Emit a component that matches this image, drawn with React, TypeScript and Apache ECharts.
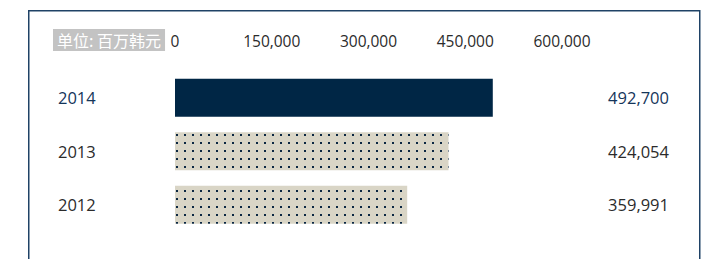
import React, { useEffect, useRef } from "react";
import * as echarts from "echarts";

const categories = ["2014", "2013", "2012"];
const values = [492700, 424054, 359991];
const tickValues = [0, 150000, 300000, 450000, 600000];
const unitLabel = "单位: 百万韩元";

const FONT = "'Open Sans', 'Noto Sans', 'Noto Sans CJK SC', sans-serif";
const NAVY = "#002645";
const HL = "#14355a";
const TXT = "#2b2b2b";

function makePattern() {
  const c = document.createElement("canvas");
  c.width = 8;
  c.height = 8;
  const ctx = c.getContext("2d")!;
  ctx.fillStyle = "#d9d5c6";
  ctx.fillRect(0, 0, 8, 8);
  ctx.fillStyle = "#0b2742";
  ctx.fillRect(0, 6, 2, 2);
  return { image: c, repeat: "repeat", imageWidth: 8, imageHeight: 8 } as any;
}

const fmt = (v: number) => v.toLocaleString("en-US");

export default function App() {
  const ref = useRef<HTMLDivElement>(null);
  useEffect(() => {
    if (!ref.current) return;
    const chart = echarts.init(ref.current, undefined, { renderer: "svg" });
    const pattern = makePattern();
    chart.setOption({
      animation: false,
      textStyle: { fontFamily: FONT },
      grid: { left: 175, right: 151, top: 71, bottom: 27.5 },
      xAxis: {
        type: "value",
        position: "top",
        min: tickValues[0],
        max: tickValues[tickValues.length - 1],
        interval: tickValues[1] - tickValues[0],
        axisLine: { show: false },
        axisTick: { show: false },
        splitLine: { show: false },
        axisLabel: {
          margin: 30,
          verticalAlign: "middle",
          color: TXT,
          fontSize: 15.5,
          fontFamily: FONT,
          formatter: (v: number) => fmt(v),
        },
      },
      yAxis: [
        {
          type: "category",
          inverse: true,
          data: categories,
          axisLine: { show: false },
          axisTick: { show: false },
          axisLabel: {
            align: "left",
            margin: 117,
            fontFamily: FONT,
            formatter: (v: string, i: number) => (i === 0 ? `{h|${v}}` : `{n|${v}}`),
            rich: {
              h: { color: HL, fontSize: 16.5, fontFamily: FONT },
              n: { color: TXT, fontSize: 16.5, fontFamily: FONT },
            },
          },
        },
        {
          type: "category",
          inverse: true,
          position: "right",
          data: categories,
          axisLine: { show: false },
          axisTick: { show: false },
          axisLabel: {
            align: "right",
            margin: 107,
            fontFamily: FONT,
            formatter: (_v: string, i: number) =>
              i === 0 ? `{h|${fmt(values[i])}}` : `{n|${fmt(values[i])}}`,
            rich: {
              h: { color: HL, fontSize: 16.5, fontFamily: FONT },
              n: { color: TXT, fontSize: 16.5, fontFamily: FONT },
            },
          },
        },
      ],
      series: [
        {
          type: "bar",
          barWidth: 38,
          yAxisIndex: 0,
          data: values.map((v, i) => ({
            value: v,
            itemStyle: { color: i === 0 ? NAVY : pattern },
          })),
        },
      ],
      graphic: [
        {
          type: "rect",
          shape: { x: 28.75, y: 10.75, width: 671, height: 320 },
          style: { fill: "none", stroke: "#1f4266", lineWidth: 1.5 },
          silent: true,
        },
        {
          type: "text",
          x: 53,
          y: 29,
          style: {
            text: unitLabel,
            fill: "#ffffff",
            font: `16px 'Noto Sans CJK SC', sans-serif`,
            backgroundColor: "#c3c3c3",
            padding: [2, 4, 2, 4],
            lineHeight: 18,
          },
        },
      ],
    });
    return () => chart.dispose();
  }, []);
  return (
    <div
      ref={ref}
      style={{ position: "absolute", left: 0, top: 0, width: 713, height: 259, background: "#fff" }}
    />
  );
}
